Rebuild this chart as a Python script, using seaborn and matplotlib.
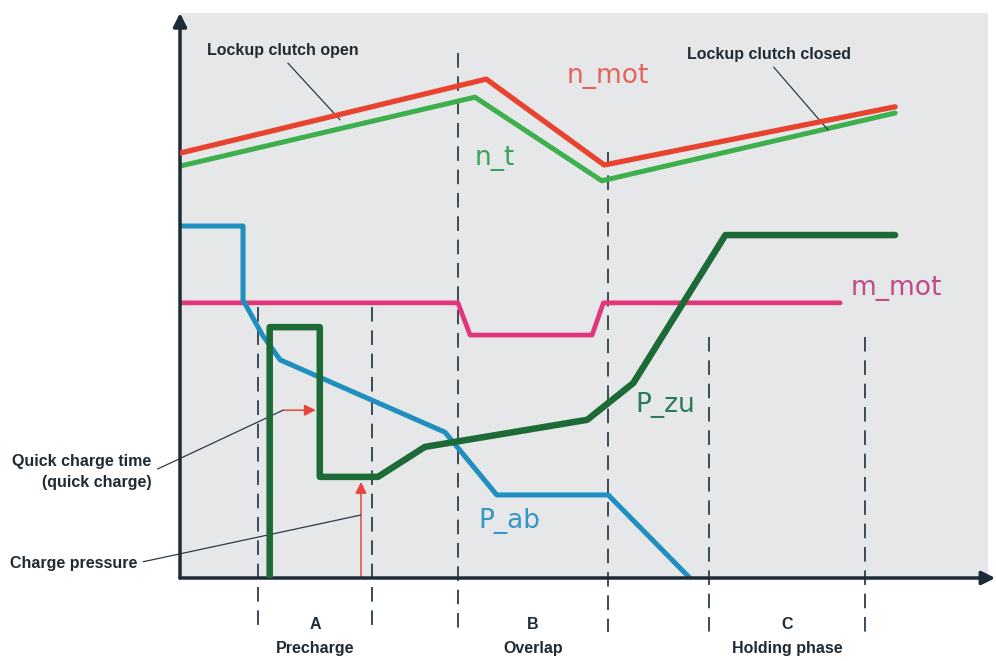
import matplotlib
matplotlib.use("Agg")
import matplotlib.pyplot as plt
import seaborn as sns

# time (x, 0..100) and signal level (y, 0..100)
n_mot_t = [0, 37.9, 52.5, 88.5]
n_mot_v = [75.2, 88.3, 73.1, 83.4]
n_t_t = [0, 36.5, 52.2, 88.5]
n_t_v = [72.9, 85.1, 70.3, 82.3]
m_mot_t = [0, 34.4, 35.9, 51.0, 52.4, 81.7]
m_mot_v = [48.7, 48.7, 43.0, 43.0, 48.7, 48.7]
p_ab_t = [0, 7.8, 7.8, 10.2, 12.4, 32.8, 39.2, 53.0, 63.1]
p_ab_v = [62.3, 62.3, 49.2, 43.0, 38.6, 25.8, 14.7, 14.7, 0]
p_zu_t = [11.1, 11.1, 17.3, 17.3, 24.5, 30.3, 50.4, 56.1, 67.5, 88.5]
p_zu_v = [0, 44.4, 44.4, 17.9, 17.9, 23.2, 28.0, 34.5, 60.7, 60.7]

# phase boundaries (dashed lines) and where each dash starts
phase_t = [9.7, 23.8, 34.4, 53.0, 65.5, 84.8]
phase_top = [48.0, 48.0, 92.9, 75.4, 42.7, 42.7]
phase_letters = ["A", "B", "C"]
phase_names = ["Precharge", "Overlap", "Holding phase"]

#Styling
sns.set_style("white")
plt.rcParams['font.family'] = ['Liberation Sans', 'DejaVu Sans']

bg = "#e6e7e9"
dark = "#1d2b36"
dash_col = "#3c4a57"
red_arrow = "#e8463a"

fig = plt.figure(figsize=(9.96, 6.61), dpi=100)
ax = fig.add_axes([180/996, 83/661, 808/996, 565/661])
ax.set_facecolor(bg)
ax.set_xlim(0, 100)
ax.set_ylim(0, 100)
ax.set_xticks([])
ax.set_yticks([])
for s in ax.spines.values():
    s.set_visible(False)

#Phase dashed lines
for t, top in zip(phase_t, phase_top):
    ax.plot([t, t], [top, -9.6], color=dash_col, lw=1.4, ls=(0, (7.5, 4.5)), clip_on=False, zorder=1)

#Signals
def line(x, y, color, lw, z):
    sns.lineplot(x=x, y=y, sort=False, estimator=None, color=color, lw=lw, ax=ax, zorder=z)

line(n_mot_t, n_mot_v, "#e8432e", 3.8, 4)
line(n_t_t, n_t_v, "#3daf4c", 3.6, 3)
line(m_mot_t, m_mot_v, "#e2367a", 3.4, 3)
line(p_ab_t, p_ab_v, "#1f8fbf", 3.6, 3)
line(p_zu_t, p_zu_v, "#1c6b37", 4.7, 4)

#Series labels
lab = dict(family="DejaVu Sans", fontsize=19, va="baseline", ha="left")
ax.text(47.8, 87.6, "n_mot", color="#e4645a", **lab)
ax.text(36.5, 73.1, "n_t", color="#38a45a", **lab)
ax.text(83.0, 50.1, "m_mot", color="#c2488a", clip_on=False, **lab)
ax.text(36.9, 8.85, "P_ab", color="#3597c6", **lab)
ax.text(56.4, 29.4, "P_zu", color="#2c7a5a", **lab)

#Red arrows
ax.annotate("", xy=(16.8, 29.7), xytext=(12.75, 29.7),
            arrowprops=dict(arrowstyle="-|>", color=red_arrow, lw=1.1, mutation_scale=17, shrinkA=0, shrinkB=0))
ax.annotate("", xy=(22.4, 17.0), xytext=(22.4, 0),
            arrowprops=dict(arrowstyle="-|>", color=red_arrow, lw=1.1, mutation_scale=17, shrinkA=0, shrinkB=0))

#Callouts
note = dict(fontsize=11.5, fontweight="bold", color="#1f2a33", annotation_clip=False)
lead = dict(arrowstyle="-", color="#2a3a48", lw=0.9, shrinkA=2, shrinkB=0)
ax.annotate("Lockup clutch open", xy=(19.8, 81.1), xytext=(12.75, 93.4),
            ha="center", va="center", arrowprops=dict(lead, relpos=(0.5, 0)), **note)
ax.annotate("Lockup clutch closed", xy=(80.2, 79.3), xytext=(72.9, 92.7),
            ha="center", va="center", arrowprops=dict(lead, relpos=(0.5, 0)), **note)
ax.annotate("Quick charge time\n(quick charge)", xy=(12.75, 29.7), xytext=(-3.5, 18.8),
            ha="right", va="center", multialignment="right", linespacing=1.5,
            arrowprops=dict(lead, relpos=(1, 0.5)), **note)
ax.annotate("Charge pressure", xy=(22.4, 11.15), xytext=(-5.3, 2.65),
            ha="right", va="center", arrowprops=dict(lead, relpos=(1, 0.5)), **note)

#Phase labels under the time axis
for i in range(3):
    mid = (phase_t[2*i] + phase_t[2*i+1]) / 2
    ax.text(mid, -8.3, phase_letters[i], ha="center", va="center", fontsize=11.5,
            fontweight="bold", color="#1f2a33", clip_on=False)
    ax.text(mid, -12.4, phase_names[i], ha="center", va="center", fontsize=11.5,
            fontweight="bold", color="#1f2a33", clip_on=False)

#Axis arrows
ax.annotate("", xy=(0, 1.0), xycoords="axes fraction", xytext=(0, 0),
            arrowprops=dict(arrowstyle="-|>", color=dark, lw=2.5, mutation_scale=20, shrinkA=0, shrinkB=0),
            annotation_clip=False)
ax.annotate("", xy=(1.009, 0), xycoords="axes fraction", xytext=(0, 0),
            arrowprops=dict(arrowstyle="-|>", color=dark, lw=2.5, mutation_scale=20, shrinkA=0, shrinkB=0),
            annotation_clip=False)

fig.savefig("out.png", dpi=100, facecolor="white")
